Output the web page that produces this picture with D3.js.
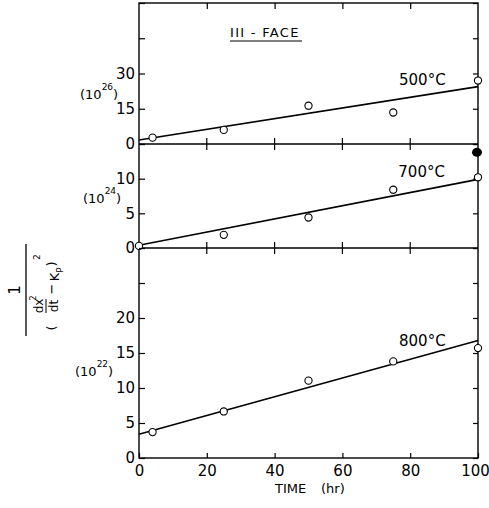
<!DOCTYPE html>
<html>
<head>
<meta charset="utf-8">
<script src="https://cdn.jsdelivr.net/npm/d3@7"></script>
<style>
  body { margin: 0; background: #fff; }
  svg { display: block; font-family: "DejaVu Sans", sans-serif; }
</style>
</head>
<body>
<div id="chart"></div>
<script>
// time axis
var timeTicks = [0, 20, 40, 60, 80, 100];

// measured points, one array per temperature
var hours500 = [4, 25, 50, 75, 100];
var vals500 = [2.7, 6.0, 16.3, 13.4, 27.0];
var hours700 = [0, 25, 50, 75, 100];
var vals700 = [0.3, 1.9, 4.4, 8.4, 10.2];
var hours800 = [4, 25, 50, 75, 100];
var vals800 = [3.7, 6.65, 11.05, 13.8, 15.7];

// fitted straight lines (value at 0 h and at 100 h)
var fitHours = [0, 100];
var fit500 = [1.7, 24.4];
var fit700 = [0.4, 9.9];
var fit800 = [3.4, 16.8];

// y ticks and labelled ticks for each panel
var ticks500 = [0, 15, 30, 45, 60], labels500 = [0, 15, 30];
var ticks700 = [0, 5, 10, 15], labels700 = [0, 5, 10];
var ticks800 = [0, 5, 10, 15, 20, 25, 30], labels800 = [0, 5, 10, 15, 20];

var svg = d3.select("#chart")
  .append("svg")
  .attr("width", 489)
  .attr("height", 508);

var m = {left: 139, right: 478, top: 3, bottom: 458};

var x = d3.scaleLinear().domain([0, 100]).range([m.left, m.right]);
var y1 = d3.scaleLinear().domain([0, 60]).range([144, m.top]);
var y2 = d3.scaleLinear().domain([0, 15]).range([248, 144]);
var y3 = d3.scaleLinear().domain([0, 30]).range([m.bottom, 248]);

var panels = [
  {y: y1, hours: hours500, vals: vals500, fit: fit500, ticks: ticks500, labels: labels500,
   name: "500°C", lx: 76.7, ly: 25.1, exp: "26", ex: 80, eb: 99},
  {y: y2, hours: hours700, vals: vals700, fit: fit700, ticks: ticks700, labels: labels700,
   name: "700°C", lx: 76.5, ly: 10.25, exp: "24", ex: 83, eb: 203},
  {y: y3, hours: hours800, vals: vals800, fit: fit800, ticks: ticks800, labels: labels800,
   name: "800°C", lx: 76.7, ly: 16.0, exp: "22", ex: 75, eb: 376}
];

// frame
svg.append("rect")
  .attr("x", m.left).attr("y", m.top)
  .attr("width", m.right - m.left).attr("height", m.bottom - m.top)
  .attr("fill", "none").attr("stroke", "#000").attr("stroke-width", 1.4);

// panel divider lines with crossing ticks
[y1(0), y2(0)].forEach(function(yy) {
  svg.append("line")
    .attr("x1", m.left).attr("x2", m.right).attr("y1", yy).attr("y2", yy)
    .attr("stroke", "#000").attr("stroke-width", 1.4);
  svg.selectAll(null).data(timeTicks.slice(1, -1)).enter().append("line")
    .attr("x1", function(d) { return x(d); }).attr("x2", function(d) { return x(d); })
    .attr("y1", yy - 6).attr("y2", yy + 6)
    .attr("stroke", "#000").attr("stroke-width", 1.2);
});

// bottom axis
var xb = svg.append("g")
  .attr("transform", "translate(0," + m.bottom + ")")
  .call(d3.axisBottom(x).tickValues(timeTicks).tickSize(-5).tickSizeOuter(0).tickPadding(7));
// top ticks
var xt = svg.append("g")
  .attr("transform", "translate(0," + m.top + ")")
  .call(d3.axisTop(x).tickValues(timeTicks.slice(1, -1)).tickSize(-6).tickSizeOuter(0).tickFormat(""));

panels.forEach(function(p) {
  var la = svg.append("g")
    .attr("transform", "translate(" + m.left + ",0)")
    .call(d3.axisLeft(p.y).tickValues(p.ticks).tickSize(-6).tickSizeOuter(0).tickPadding(4)
      .tickFormat(function(d) { return p.labels.indexOf(d) >= 0 ? d : ""; }));
  var ra = svg.append("g")
    .attr("transform", "translate(" + m.right + ",0)")
    .call(d3.axisRight(p.y).tickValues(p.ticks).tickSize(-5).tickSizeOuter(0).tickFormat(""));
  [la, ra].forEach(function(a) { a.select(".domain").remove(); });

  var line = d3.line()
    .x(function(d) { return x(d[0]); })
    .y(function(d) { return p.y(d[1]); });
  svg.append("path")
    .datum(fitHours.map(function(h, i) { return [h, p.fit[i]]; }))
    .attr("d", line)
    .attr("fill", "none").attr("stroke", "#000").attr("stroke-width", 1.6);

  svg.selectAll(null)
    .data(p.hours.map(function(h, i) { return [h, p.vals[i]]; }))
    .enter().append("circle")
    .attr("cx", function(d) { return x(d[0]); })
    .attr("cy", function(d) { return p.y(d[1]); })
    .attr("r", 3.6)
    .attr("fill", "#fff").attr("stroke", "#000").attr("stroke-width", 1.1);

  svg.append("text")
    .attr("x", x(p.lx)).attr("y", p.y(p.ly))
    .attr("font-size", 15)
    .text(p.name);

  var t = svg.append("text")
    .attr("x", p.ex).attr("y", p.eb)
    .attr("font-size", 13);
  t.append("tspan").text("(10");
  t.append("tspan").attr("dy", -9).attr("font-size", 9).text(p.exp);
  t.append("tspan").attr("dy", 9).text(")");
});

[xb, xt].forEach(function(a) { a.select(".domain").remove(); });
svg.selectAll(".tick line").attr("stroke", "#000").attr("stroke-width", 1.2);
svg.selectAll(".tick text").attr("font-size", 15).attr("font-family", "DejaVu Sans").attr("fill", "#000");
// keep "100" inside the picture
xb.selectAll(".tick text").filter(function(d) { return d === 100; }).attr("dx", -3);

// scan blot on the right edge
svg.append("ellipse")
  .attr("cx", x(99.7)).attr("cy", y2(13.8))
  .attr("rx", 5).attr("ry", 4.5)
  .attr("fill", "#000");

// panel title
svg.append("text")
  .attr("x", 230).attr("y", 37)
  .attr("font-size", 13)
  .attr("letter-spacing", 1.3)
  .text("III - FACE");
svg.append("line")
  .attr("x1", 230).attr("x2", 302).attr("y1", 41).attr("y2", 41)
  .attr("stroke", "#000").attr("stroke-width", 1.2);

// x axis title
svg.append("text").attr("x", 275).attr("y", 493).attr("font-size", 13).text("TIME");
svg.append("text").attr("x", 321).attr("y", 493).attr("font-size", 13).text("(hr)");

// y axis title: 1 / (dx²/dt − Kp)², rotated
var yl = svg.append("g").attr("transform", "translate(0,290) rotate(-90)");
function lab(lx, ly, s, size, anchor) {
  yl.append("text").attr("x", lx).attr("y", ly)
    .attr("font-size", size).attr("text-anchor", anchor || "middle").text(s);
}
lab(0, 20, "1", 15);
yl.append("line").attr("x1", -46).attr("x2", 46).attr("y1", 26).attr("y2", 26)
  .attr("stroke", "#000").attr("stroke-width", 1.3);
lab(-38, 56, "(", 13);
lab(-16, 43, "dx", 12);
lab(-8, 36, "2", 8);
yl.append("line").attr("x1", -23).attr("x2", -9).attr("y1", 46).attr("y2", 46)
  .attr("stroke", "#000").attr("stroke-width", 1);
lab(-16, 58, "dt", 12);
lab(1, 56, "−", 13);
lab(13, 59, "K", 13);
lab(20, 63, "P", 9);
lab(26, 56, ")", 13);
lab(33, 40, "2", 9);
</script>
</body>
</html>
